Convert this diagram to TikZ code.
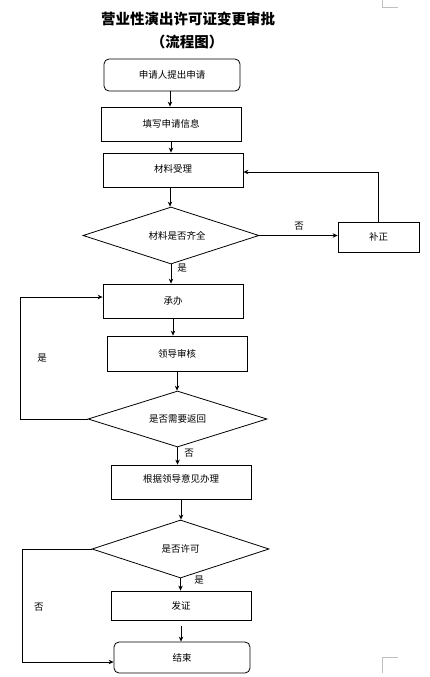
\documentclass[tikz,border=0pt]{standalone}
\usepackage{fontspec}
\newfontfamily\cjk{Noto Sans CJK SC}
\usetikzlibrary{shapes.geometric,arrows.meta}
\begin{document}
\begin{tikzpicture}[x=1pt,y=-1pt,
  base/.style={font=\cjk\fontsize{9.5}{11}\selectfont, inner sep=0pt, line width=0.8pt},
  procbox/.style={base, draw, rectangle},
  roundbox/.style={base, draw, rectangle, rounded corners=5pt},
  decision/.style={base, draw, diamond, aspect=3},
  lbl/.style={font=\cjk\fontsize{9.5}{11}\selectfont, inner sep=0pt},
  arr/.style={line width=0.8pt, -{Stealth[length=5pt,width=4.5pt]}},
  ttl/.style={font=\cjk\bfseries\fontsize{14.5}{16}\selectfont, inner sep=0pt}]
\useasboundingbox (0,0) rectangle (429,677);
% title
\node[ttl] (t1) at (188,19) {营业性演出许可证变更审批};
\node[ttl] (t2) at (187,42) {（流程图）};
% corner marks
\draw[black!25, line width=0.8pt] (382,0) -- (382,7) -- (398,7);
\draw[black!25, line width=0.8pt] (398,657) -- (382,657) -- (382,673);
% nodes
\node[roundbox, minimum width=136, minimum height=32] (n1) at (172,75) {申请人提出申请};
\node[procbox, minimum width=140, minimum height=34] (n2) at (171,124) {填写申请信息};
\node[procbox, minimum width=140, minimum height=34] (n3) at (173,170) {\raisebox{3pt}{材料受理}};
\node[decision, minimum width=176, minimum height=57] (d1) at (171,235.5) {\hspace*{12pt}材料是否齐全};
\node[procbox, minimum width=81, minimum height=30] (n4) at (378.5,237) {补正};
\node[procbox, minimum width=140, minimum height=34] (n5) at (173,301) {承办};
\node[procbox, minimum width=140, minimum height=35] (n6) at (177,353.5) {领导审核};
\node[decision, minimum width=179, minimum height=56] (d2) at (177.5,419) {是否需要返回};
\node[procbox, minimum width=140, minimum height=34] (n7) at (181,482) {\raisebox{7pt}{根据领导意见办理}};
\node[decision, minimum width=177, minimum height=58] (d3) at (180.5,549) {是否许可};
\node[procbox, minimum width=140, minimum height=29] (n8) at (181,605.5) {发证};
\node[roundbox, minimum width=136, minimum height=31] (n9) at (182,657.5) {结束};
% connectors
\draw[arr] ([xshift=-2pt]n1.south) -- ([xshift=-2pt]n1.south |- n2.north);
\draw[arr] (n2.south) -- (n2.south |- n3.north);
\draw[arr] ([xshift=-3pt]n3.south) -- ([xshift=-3pt]n3.south |- d1.north);
\draw[arr] (d1.east) -- (d1.east -| n4.west);
\draw[arr] (n4.north) |- ([yshift=-2pt]n3.east);
\draw[arr] (d1.south) -- (d1.south |- n5.north);
\draw[arr] (n5.south) -- (n5.south |- n6.north);
\draw[arr] (n6.south) -- (n6.south |- d2.north);
\draw[arr] (d2.west) -- ++(-67,0) |- ([yshift=4pt]n5.west);
\draw[arr] (d2.south) -- (d2.south |- n7.north);
\draw[arr] (n7.south) -- (n7.south |- d3.north);
\draw[arr] (d3.south) -- (d3.south |- n8.north);
\draw[arr] ([yshift=-6pt]n8.south) -- (n8.south |- n9.north);
\draw[arr] (d3.west) -- ++(-69,0) |- ([yshift=-4.5pt]n9.west);
% labels
\node[lbl] (l1) at (299,226) {否};
\node[lbl] (l2) at (182,268) {是};
\node[lbl] (l3) at (42,358) {是};
\node[lbl] (l4) at (189,453) {否};
\node[lbl] (l5) at (199,580) {是};
\node[lbl] (l6) at (39,607) {否};
\end{tikzpicture}
\end{document}
